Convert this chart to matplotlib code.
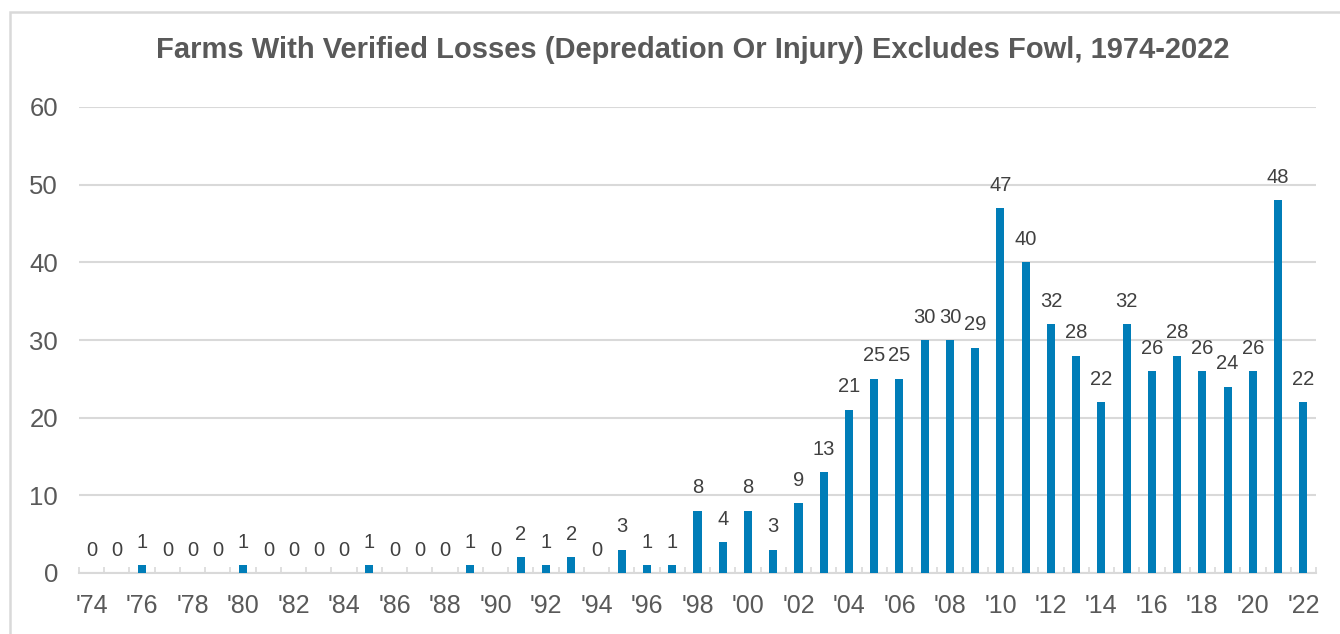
import numpy as np
import matplotlib
matplotlib.use("Agg")
import matplotlib.pyplot as plt
from matplotlib.patches import Rectangle

plt.rcParams['font.family'] = ['Liberation Sans', 'DejaVu Sans']

# farms with verified losses per year, 1974-2022
years = list(range(1974, 2023))
farms = [0, 0, 1, 0, 0, 0, 1, 0, 0, 0, 0, 1, 0, 0, 0, 1, 0,
         2, 1, 2, 0, 3, 1, 1, 8, 4, 8, 3, 9, 13, 21, 25, 25, 30, 30, 29,
         47, 40, 32, 28, 22, 32, 26, 28, 26, 24, 26, 48, 22]
year_labels = ["'" + str(y)[2:] for y in years]

bar_col = '#007DB8'
grid_col = '#D9D9D9'
txt_col = '#595959'

fig = plt.figure(figsize=(13.4, 6.34), dpi=100)
# chart border like the spreadsheet frame
fig.patches.append(Rectangle((10 / 1340, -0.05), 1.1, 1 - 12 / 634 + 0.05,
                             transform=fig.transFigure, fill=False,
                             edgecolor=grid_col, linewidth=1.8))

ax = fig.add_axes([79 / 1340, 1 - 573 / 634, (1316 - 79) / 1340, (573 - 107) / 634])
x = np.arange(len(years))
ax.bar(x, farms, width=0.32, color=bar_col, zorder=3)

for xi, v in zip(x, farms):
    ax.annotate(str(v), (xi, v), xytext=(0, 16.5), textcoords='offset points',
                ha='center', va='center', fontsize=14.5, color='#404040')

ax.set_xlim(-0.5, len(years) - 0.5)
ax.set_ylim(0, 60)
ax.set_yticks(range(0, 61, 10))
ax.set_xticks(x[::2])
ax.set_xticklabels(year_labels[::2])
ax.set_xticks(np.arange(-0.5, len(years), 1), minor=True)

ax.yaxis.grid(True, color=grid_col, linewidth=1.5, zorder=0)
for s in ['top', 'right', 'left']:
    ax.spines[s].set_visible(False)
ax.spines['bottom'].set_color(grid_col)
ax.spines['bottom'].set_linewidth(1.5)

ax.tick_params(axis='y', length=0, pad=15, labelsize=18.5, labelcolor=txt_col)
ax.tick_params(axis='x', which='major', length=0, pad=15, labelsize=18, labelcolor=txt_col)
ax.tick_params(axis='x', which='minor', direction='in', length=4.5, width=1.2, color=grid_col)

fig.text(0.517, 1 - 50 / 634, 'Farms With Verified Losses (Depredation Or Injury) Excludes Fowl, 1974-2022',
         ha='center', va='center', fontsize=21, fontweight='bold', color=txt_col)

fig.savefig('out.png', dpi=100)
